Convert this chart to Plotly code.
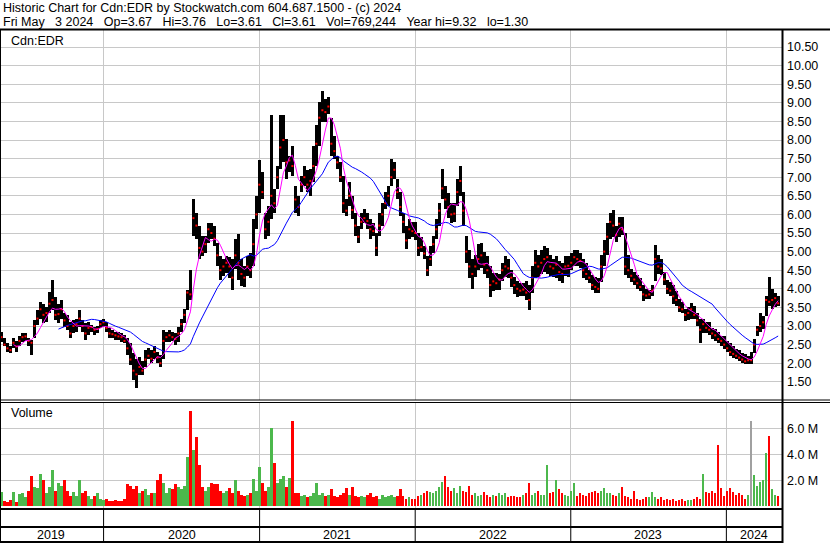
import pandas as pd
import plotly.graph_objects as go

# ---------------- data (weekly readings from the chart) ----------------
high = [2.85, 2.67, 2.55, 2.45, 2.67, 2.60, 2.73, 2.80, 2.80, 2.67,
        2.62, 3.15, 3.43, 3.65, 3.60, 3.50, 3.92, 4.25, 3.78, 3.60,
        3.70, 3.34, 3.30, 3.10, 3.15, 3.20, 3.43, 3.16, 3.07, 3.10,
        3.03, 2.98, 3.00, 3.16, 3.20, 3.10, 2.94, 2.90, 2.85, 2.85,
        2.80, 2.76, 2.67, 2.54, 2.27, 2.10, 2.18, 2.05, 2.36, 2.40,
        2.36, 2.45, 2.30, 2.22, 2.90, 2.85, 2.90, 2.85, 2.80, 2.98,
        3.20, 3.47, 3.96, 4.50, 6.41, 6.05, 5.69, 5.42, 5.42, 5.78,
        5.78, 5.69, 5.24, 4.88, 4.80, 4.88, 4.85, 4.80, 5.33, 5.46,
        4.80, 4.60, 4.88, 4.97, 5.87, 6.50, 7.45, 7.13, 6.05, 6.23,
        8.66, 6.68, 7.31, 8.66, 8.66, 8.03, 7.58, 7.85, 6.77, 6.50,
        7.04, 7.31, 7.20, 7.22, 7.85, 8.39, 9.02, 9.32, 9.11, 9.16,
        8.60, 8.12, 7.58, 7.40, 7.04, 6.41, 6.86, 6.50, 6.05, 5.69,
        6.05, 6.14, 6.05, 5.87, 5.78, 5.50, 6.05, 6.32, 6.59, 6.77,
        7.49, 7.40, 6.95, 6.59, 6.05, 5.69, 5.87, 5.80, 5.80, 5.50,
        5.40, 5.15, 4.88, 5.15, 5.42, 5.87, 6.32, 7.22, 6.77, 6.58,
        6.32, 6.30, 6.95, 7.31, 6.59, 5.42, 5.05, 4.80, 4.90, 5.20,
        5.23, 5.00, 4.87, 4.60, 4.42, 4.42, 4.40, 4.70, 4.87, 4.80,
        4.50, 4.33, 4.20, 4.15, 4.15, 4.20, 4.10, 4.60, 5.05, 4.90,
        5.05, 5.14, 5.10, 4.90, 4.80, 4.87, 4.75, 4.70, 4.87, 4.87,
        4.95, 5.05, 5.05, 4.95, 4.80, 4.69, 4.50, 4.36, 4.33, 4.30,
        4.90, 5.32, 5.77, 6.04, 6.13, 5.70, 5.93, 5.93, 5.50, 4.90,
        4.54, 4.45, 4.36, 4.30, 4.09, 4.00, 3.98, 4.10, 5.17, 4.90,
        4.80, 4.45, 4.25, 4.18, 4.09, 3.95, 3.73, 3.65, 3.45, 3.50,
        3.63, 3.55, 3.36, 3.20, 3.18, 3.10, 3.10, 2.95, 2.91, 2.85,
        2.73, 2.73, 2.60, 2.55, 2.45, 2.37, 2.35, 2.28, 2.25, 2.20,
        2.30, 2.64, 3.00, 3.36, 3.27, 3.80, 4.31, 4.00, 3.90, 3.82]

low = [2.58, 2.45, 2.30, 2.28, 2.40, 2.30, 2.45, 2.58, 2.60, 2.45,
       2.22, 2.67, 3.03, 3.20, 3.07, 3.10, 3.34, 3.43, 3.16, 3.07,
       3.20, 2.98, 2.90, 2.67, 2.80, 2.85, 2.98, 2.85, 2.62, 2.75,
       2.85, 2.75, 2.82, 2.94, 2.98, 2.85, 2.67, 2.67, 2.62, 2.62,
       2.58, 2.54, 2.22, 1.95, 1.55, 1.33, 1.69, 1.69, 1.90, 2.10,
       2.00, 2.10, 2.00, 1.90, 2.10, 2.58, 2.58, 2.60, 2.50, 2.58,
       2.85, 3.07, 3.43, 3.70, 5.42, 5.33, 4.79, 4.88, 4.97, 5.24,
       5.33, 5.15, 4.60, 4.25, 4.34, 4.43, 4.30, 3.98, 4.52, 4.25,
       4.07, 4.05, 4.34, 4.30, 4.60, 5.60, 6.05, 6.41, 5.33, 5.42,
       5.87, 6.05, 6.68, 7.22, 7.40, 6.95, 7.13, 7.04, 6.05, 5.96,
       6.59, 6.77, 6.60, 6.50, 6.86, 7.31, 7.85, 8.48, 8.48, 8.70,
       7.58, 7.50, 7.22, 6.86, 6.05, 5.96, 6.23, 5.87, 5.42, 5.24,
       5.60, 5.78, 5.60, 5.33, 5.42, 4.88, 5.42, 5.69, 6.14, 6.23,
       6.77, 6.95, 6.41, 5.96, 5.50, 5.06, 5.33, 5.40, 5.30, 4.88,
       5.00, 4.79, 4.34, 4.60, 4.97, 5.33, 5.69, 6.41, 6.14, 5.90,
       5.77, 5.80, 6.22, 6.50, 5.68, 4.70, 4.30, 4.00, 4.33, 4.50,
       4.55, 4.40, 4.30, 3.79, 3.95, 3.97, 3.97, 4.20, 4.33, 4.30,
       4.06, 3.85, 3.79, 3.80, 3.80, 3.70, 3.43, 3.90, 4.30, 4.33,
       4.40, 4.45, 4.40, 4.35, 4.33, 4.30, 4.20, 4.15, 4.35, 4.33,
       4.50, 4.60, 4.60, 4.55, 4.30, 4.24, 4.15, 3.97, 3.90, 3.88,
       4.18, 4.60, 4.90, 5.35, 5.40, 5.25, 5.40, 5.44, 4.36, 4.30,
       4.18, 4.10, 4.00, 3.95, 3.68, 3.72, 3.73, 3.80, 4.20, 4.40,
       4.36, 4.09, 3.85, 3.82, 3.60, 3.55, 3.37, 3.35, 3.14, 3.15,
       3.20, 3.18, 3.00, 2.55, 2.82, 2.82, 2.75, 2.64, 2.60, 2.55,
       2.45, 2.37, 2.30, 2.19, 2.15, 2.10, 2.05, 2.00, 1.97, 1.97,
       1.97, 2.28, 2.73, 2.85, 2.91, 3.27, 3.55, 3.45, 3.50, 3.55]

close = [2.70, 2.50, 2.40, 2.35, 2.55, 2.45, 2.60, 2.70, 2.72, 2.60,
         2.55, 3.00, 3.20, 3.45, 3.30, 3.35, 3.60, 3.70, 3.30, 3.32,
         3.45, 3.15, 3.00, 2.80, 3.00, 3.05, 3.20, 3.00, 2.80, 2.95,
         2.97, 2.90, 2.92, 3.05, 3.10, 2.95, 2.80, 2.78, 2.75, 2.72,
         2.70, 2.60, 2.40, 2.10, 1.80, 1.70, 1.90, 1.80, 2.10, 2.20,
         2.12, 2.30, 2.15, 2.00, 2.60, 2.70, 2.75, 2.70, 2.65, 2.80,
         3.05, 3.30, 3.90, 3.85, 5.90, 5.70, 5.10, 5.00, 5.20, 5.60,
         5.50, 5.35, 4.90, 4.50, 4.60, 4.70, 4.60, 4.30, 4.90, 4.70,
         4.40, 4.30, 4.60, 4.50, 5.20, 6.00, 6.80, 6.60, 5.60, 5.80,
         6.50, 6.30, 7.00, 7.80, 8.00, 7.40, 7.45, 7.30, 6.40, 6.20,
         6.80, 7.00, 6.80, 6.90, 7.30, 7.90, 8.60, 8.80, 8.75, 8.90,
         7.90, 7.70, 7.40, 7.00, 6.30, 6.10, 6.50, 6.12, 5.70, 5.40,
         5.80, 5.90, 5.82, 5.60, 5.55, 5.10, 5.70, 6.00, 6.30, 6.50,
         7.00, 7.20, 6.60, 6.20, 5.80, 5.30, 5.60, 5.55, 5.50, 5.10,
         5.12, 4.95, 4.50, 4.80, 5.20, 5.60, 6.10, 6.70, 6.40, 6.20,
         6.00, 6.02, 6.60, 6.90, 6.10, 5.00, 4.60, 4.40, 4.60, 4.80,
         4.90, 4.65, 4.50, 4.10, 4.20, 4.15, 4.25, 4.50, 4.60, 4.55,
         4.30, 4.10, 4.00, 3.95, 3.98, 3.90, 3.70, 4.30, 4.70, 4.60,
         4.70, 4.80, 4.85, 4.60, 4.55, 4.65, 4.45, 4.40, 4.60, 4.62,
         4.70, 4.85, 4.80, 4.75, 4.50, 4.40, 4.30, 4.10, 4.05, 4.00,
         4.60, 5.00, 5.40, 5.80, 5.70, 5.45, 5.75, 5.60, 4.60, 4.50,
         4.35, 4.25, 4.15, 4.05, 3.85, 3.82, 3.85, 3.95, 4.80, 4.60,
         4.55, 4.25, 4.00, 3.95, 3.80, 3.70, 3.50, 3.45, 3.30, 3.35,
         3.45, 3.30, 3.15, 2.90, 3.05, 2.95, 2.90, 2.80, 2.75, 2.65,
         2.60, 2.50, 2.40, 2.30, 2.25, 2.20, 2.15, 2.10, 2.05, 2.08,
         2.08, 2.50, 2.90, 3.00, 3.10, 3.70, 3.65, 3.70, 3.75, 3.61]

volume_m = [1.1, 0.4, 0.3, 0.5, 1.1, 0.3, 0.95, 1.0, 0.7, 1.2,
            2.3, 1.5, 1.4, 2.5, 2.0, 1.0, 1.5, 2.8, 1.2, 1.8,
            1.6, 2.0, 1.2, 0.8, 1.1, 0.8, 2.0, 1.0, 1.2, 0.8,
            0.6, 0.8, 1.0, 0.6, 0.5, 0.6, 0.4, 0.4, 0.5, 0.4,
            0.4, 0.6, 1.7, 1.6, 1.3, 1.6, 1.0, 1.2, 1.3, 0.9,
            1.0, 1.0, 2.0, 2.5, 1.8, 1.0, 1.4, 1.3, 1.7, 1.5,
            1.3, 1.6, 3.8, 7.3, 4.3, 5.3, 3.2, 1.5, 1.2, 1.5,
            1.8, 1.7, 1.7, 1.2, 1.0, 1.2, 1.4, 1.0, 2.0, 1.2,
            0.9, 0.8, 0.9, 1.0, 2.1, 1.2, 3.0, 1.8, 1.2, 1.5,
            6.0, 3.3, 1.8, 2.1, 2.3, 1.5, 2.2, 6.6, 1.0, 1.0,
            0.8, 0.9, 0.7, 0.8, 1.0, 1.8, 0.9, 1.0, 0.8, 0.9,
            1.3, 0.8, 0.7, 0.9, 1.0, 1.4, 0.9, 1.5, 0.8, 0.7,
            0.8, 0.7, 0.9, 1.0, 0.7, 0.8, 0.6, 0.9, 0.7, 0.8,
            0.9, 0.7, 0.8, 1.3, 0.8, 0.6, 0.7, 0.6, 0.6, 0.8,
            0.9, 1.0, 1.2, 1.1, 1.0, 1.2, 1.5, 1.9, 2.3, 1.5,
            1.2, 1.4, 1.0, 1.6, 1.2, 1.1, 1.6, 0.9, 1.0, 0.8,
            0.9, 1.1, 0.9, 0.7, 0.9, 0.8, 1.0, 0.9, 1.0, 0.7,
            0.8, 0.8, 0.7, 0.7, 0.9, 1.0, 1.8, 0.9, 1.0, 1.2,
            0.9, 0.9, 3.2, 1.0, 1.1, 2.0, 1.3, 1.0, 0.9, 0.8,
            1.2, 1.8, 0.8, 1.0, 0.9, 0.8, 1.0, 1.1, 1.2, 1.0,
            1.2, 1.4, 1.0, 1.0, 0.9, 0.8, 1.0, 1.5, 0.8, 0.7,
            0.6, 1.2, 0.6, 0.5, 0.6, 0.7, 0.7, 1.1, 0.7, 0.6,
            0.7, 0.5, 0.6, 0.5, 0.6, 0.4, 0.5, 0.6, 0.4, 0.5,
            0.5, 0.6, 0.7, 0.6, 2.5, 1.1, 1.0, 1.2, 1.0, 4.7,
            1.4, 0.8, 1.2, 1.4, 1.1, 0.9, 1.0, 0.9, 0.6, 0.9,
            6.6, 2.4, 1.6, 1.9, 2.0, 4.1, 5.4, 1.3, 0.9, 0.8]

year_ticks = ["2020-01-01", "2021-01-01", "2022-01-01", "2023-01-01", "2024-01-01"]
year_labels = ["2019", "2020", "2021", "2022", "2023", "2024"]
year_label_pos = ["2019-08-31", "2020-07-02", "2021-07-02", "2022-07-02", "2023-07-02", "2024-03-06"]
price_ticks = [1.5, 2.0, 2.5, 3.0, 3.5, 4.0, 4.5, 5.0, 5.5, 6.0, 6.5, 7.0, 7.5, 8.0, 8.5, 9.0, 9.5, 10.0, 10.5]
vol_ticks = [2.0, 4.0, 6.0]

SP = "&nbsp;&nbsp;&nbsp;"
header1 = "Historic Chart for Cdn:EDR by Stockwatch.com 604.687.1500 - (c) 2024"
header2 = ("Fri May" + SP + "3 2024" + SP + "Op=3.67" + SP + "Hi=3.76" + SP + "Lo=3.61" + SP +
           "Cl=3.61" + SP + "Vol=769,244" + SP + "Year hi=9.32" + SP + "lo=1.30")

# ---------------- derived ----------------
W, H = 830, 543
dates = pd.date_range("2019-05-06 12:00", "2024-05-01 12:00", periods=len(close))
s_close = pd.Series(close)
ma_fast = s_close.rolling(5).mean()
ma_slow = s_close.rolling(20).mean()
rng = [f - l for f, l in zip(high, low)]

vol_colors = []
prev = None
for c in close:
    if prev is None or c > prev:
        vol_colors.append("#4cb84c")
    elif c < prev:
        vol_colors.append("#ff0000")
    else:
        vol_colors.append("#a0a0a0")
    prev = c

DAY = 24 * 3600 * 1000
FONT = "Liberation Sans, Arial, sans-serif"
FS = 12.5
GRID = "#c8c8c8"

def px(x):
    return x / W

def py(y):
    return 1 - y / H

x_range = ["2019-05-03", "2024-05-10 12:00"]

fig = go.Figure()
fig.add_trace(go.Bar(x=dates, y=rng, base=low, width=7.05 * DAY,
                     marker=dict(color="black", line=dict(width=0)),
                     xaxis="x", yaxis="y", showlegend=False))
fig.add_trace(go.Scatter(x=dates, y=close, mode="markers",
                         marker=dict(color="#ff0000", size=2, symbol="square", line=dict(width=0)),
                         xaxis="x", yaxis="y", showlegend=False))
fig.add_trace(go.Scatter(x=dates, y=ma_slow, mode="lines",
                         line=dict(color="#0000ff", width=1),
                         xaxis="x", yaxis="y", showlegend=False))
fig.add_trace(go.Scatter(x=dates, y=ma_fast, mode="lines",
                         line=dict(color="#ff00ff", width=1),
                         xaxis="x", yaxis="y", showlegend=False))
fig.add_trace(go.Bar(x=dates, y=[v * 1e6 for v in volume_m], width=5.5 * DAY,
                     marker=dict(color=vol_colors, line=dict(width=0)),
                     xaxis="x2", yaxis="y2", showlegend=False))

x_dom = [0, px(782)]
fig.update_layout(
    width=W, height=H,
    margin=dict(l=0, r=0, t=0, b=0),
    paper_bgcolor="white", plot_bgcolor="white",
    font=dict(family=FONT, size=FS, color="black"),
    bargap=0,
    xaxis=dict(domain=x_dom, anchor="y", range=x_range, type="date",
               tickvals=year_ticks, showticklabels=False, ticks="",
               showgrid=True, gridcolor=GRID, gridwidth=1, zeroline=False, showline=False),
    yaxis=dict(domain=[py(400), py(30)], anchor="x", side="right",
               range=[1.011, 10.957], tickvals=price_ticks,
               ticktext=[f"{t:.2f}" for t in price_ticks],
               showgrid=True, gridcolor=GRID, gridwidth=1, zeroline=False,
               showline=False, ticks="", ticklabelstandoff=4,
               tickfont=dict(family=FONT, size=FS, color="black")),
    xaxis2=dict(domain=x_dom, anchor="y2", range=x_range, type="date",
                tickvals=year_ticks, showticklabels=False, ticks="",
                showgrid=True, gridcolor=GRID, gridwidth=1, zeroline=False, showline=False),
    yaxis2=dict(domain=[py(508.5), py(403)], anchor="x2", side="right",
                range=[-0.17e6, 7.95e6], tickvals=[v * 1e6 for v in vol_ticks],
                ticktext=[f"{v:.1f} M" for v in vol_ticks],
                showgrid=True, gridcolor=GRID, gridwidth=1, zeroline=False,
                showline=False, ticks="", ticklabelstandoff=4,
                tickfont=dict(family=FONT, size=FS, color="black")),
)

shapes = []
def hline(y, x0, x1, w=1):
    shapes.append(dict(type="line", xref="paper", yref="paper", x0=px(x0), x1=px(x1),
                       y0=py(y), y1=py(y), line=dict(color="black", width=w)))
def vline(x, y0, y1, w=1):
    shapes.append(dict(type="line", xref="paper", yref="paper", x0=px(x), x1=px(x),
                       y0=py(y0), y1=py(y1), line=dict(color="black", width=w)))

hline(29.5, 0, 830, 2)
hline(400, 0, 830, 1)
hline(402.5, 0, 830, 1)
hline(509, 0, 783, 2)
hline(527, 0, 783, 2)
hline(542, 0, 783, 2)
vline(0.5, 29.5, 543, 1)
vline(782.5, 29.5, 543, 2)
for d in year_ticks:
    shapes.append(dict(type="line", xref="x2", yref="paper", x0=d, x1=d,
                       y0=py(509), y1=py(542), line=dict(color="black", width=1)))
fig.update_layout(shapes=shapes)

ann = [
    dict(text=header1, x=px(1), y=py(8), xanchor="left", yanchor="middle"),
    dict(text=header2, x=px(1), y=py(22), xanchor="left", yanchor="middle"),
    dict(text="Cdn:EDR", x=px(9), y=py(41), xanchor="left", yanchor="middle"),
    dict(text="Volume", x=px(9), y=py(413), xanchor="left", yanchor="middle"),
]
for a in ann:
    a.update(xref="paper", yref="paper", showarrow=False,
             font=dict(family=FONT, size=FS, color="black"))
for lab, pos in zip(year_labels, year_label_pos):
    ann.append(dict(text=lab, x=pos, xref="x2", y=py(535), yref="paper",
                    xanchor="center", yanchor="middle", showarrow=False,
                    font=dict(family=FONT, size=FS, color="black")))
fig.update_layout(annotations=ann)

fig.write_html("out.html", config={"displayModeBar": False},
               post_script="document.body.style.margin='0px';document.body.style.padding='0px';")
